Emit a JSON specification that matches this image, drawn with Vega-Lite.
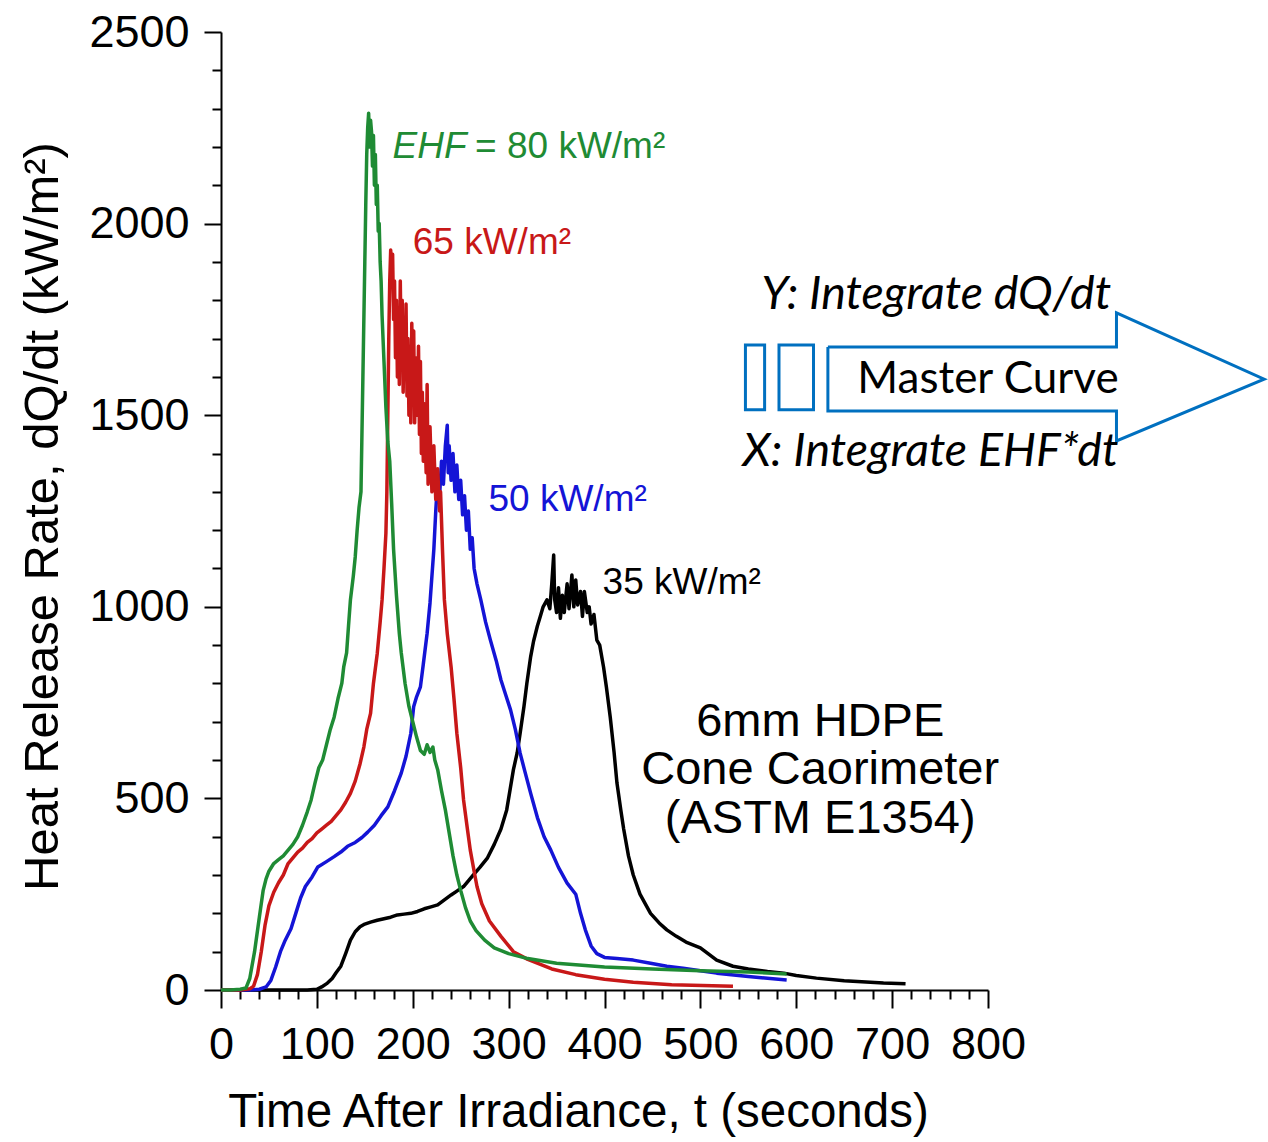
{
  "$schema": "https://vega.github.io/schema/vega-lite/v6.json",
  "autosize": {"type": "none"},
  "padding": {"left": 221, "top": 32, "right": 280, "bottom": 152},
  "width": 767,
  "height": 958,
  "background": "white",
  "config": {
    "view": {"stroke": null},
    "font": "Liberation Sans",
    "axis": {
      "domainColor": "black",
      "domainWidth": 2,
      "tickColor": "black",
      "tickWidth": 2,
      "grid": false,
      "labelFont": "Liberation Sans",
      "labelFontSize": 45,
      "labelColor": "black",
      "labelOverlap": false,
      "titleFont": "Liberation Sans",
      "titleFontSize": 47,
      "titleFontWeight": "normal",
      "titleColor": "black"
    }
  },
  "datasets": {
    "curves": [
      {"s":"35","t":0,"v":0},{"s":"35","t":50,"v":0},{"s":"35","t":90,"v":0},{"s":"35","t":100,"v":2},{"s":"35","t":105,"v":8},{"s":"35","t":111,"v":18},{"s":"35","t":116,"v":30},{"s":"35","t":120,"v":45},{"s":"35","t":125,"v":62},{"s":"35","t":130,"v":95},{"s":"35","t":135,"v":130},{"s":"35","t":140,"v":152},{"s":"35","t":145,"v":165},{"s":"35","t":150,"v":172},{"s":"35","t":156,"v":177},{"s":"35","t":163,"v":182},{"s":"35","t":170,"v":186},{"s":"35","t":177,"v":190},{"s":"35","t":184,"v":196},{"s":"35","t":191,"v":198},{"s":"35","t":198,"v":200},{"s":"35","t":205,"v":205},{"s":"35","t":212,"v":212},{"s":"35","t":219,"v":217},{"s":"35","t":226,"v":222},{"s":"35","t":233,"v":235},{"s":"35","t":240,"v":248},{"s":"35","t":246,"v":258},{"s":"35","t":253,"v":270},{"s":"35","t":258,"v":285},{"s":"35","t":263,"v":300},{"s":"35","t":270,"v":320},{"s":"35","t":278,"v":345},{"s":"35","t":285,"v":380},{"s":"35","t":292,"v":420},{"s":"35","t":298,"v":470},{"s":"35","t":302,"v":530},{"s":"35","t":305,"v":575},{"s":"35","t":309,"v":620},{"s":"35","t":312,"v":670},{"s":"35","t":316,"v":740},{"s":"35","t":319,"v":800},{"s":"35","t":323,"v":870},{"s":"35","t":326,"v":910},{"s":"35","t":330,"v":950},{"s":"35","t":333,"v":975},{"s":"35","t":336,"v":1000},{"s":"35","t":340,"v":1018},{"s":"35","t":343,"v":995},{"s":"35","t":345,"v":1060},{"s":"35","t":347,"v":1135},{"s":"35","t":348,"v":1020},{"s":"35","t":350,"v":985},{"s":"35","t":352,"v":1050},{"s":"35","t":354,"v":970},{"s":"35","t":356,"v":1030},{"s":"35","t":358,"v":985},{"s":"35","t":361,"v":1060},{"s":"35","t":363,"v":995},{"s":"35","t":366,"v":1083},{"s":"35","t":368,"v":1000},{"s":"35","t":370,"v":1070},{"s":"35","t":372,"v":1005},{"s":"35","t":375,"v":1040},{"s":"35","t":377,"v":975},{"s":"35","t":379,"v":1040},{"s":"35","t":382,"v":985},{"s":"35","t":384,"v":1000},{"s":"35","t":386,"v":955},{"s":"35","t":389,"v":980},{"s":"35","t":392,"v":913},{"s":"35","t":395,"v":900},{"s":"35","t":399,"v":843},{"s":"35","t":402,"v":790},{"s":"35","t":406,"v":712},{"s":"35","t":410,"v":620},{"s":"35","t":413,"v":540},{"s":"35","t":417,"v":470},{"s":"35","t":420,"v":420},{"s":"35","t":425,"v":350},{"s":"35","t":430,"v":300},{"s":"35","t":437,"v":250},{"s":"35","t":448,"v":200},{"s":"35","t":457,"v":175},{"s":"35","t":465,"v":157},{"s":"35","t":475,"v":140},{"s":"35","t":485,"v":125},{"s":"35","t":500,"v":110},{"s":"35","t":508,"v":95},{"s":"35","t":517,"v":78},{"s":"35","t":534,"v":62},{"s":"35","t":550,"v":55},{"s":"35","t":570,"v":48},{"s":"35","t":587,"v":44},{"s":"35","t":600,"v":38},{"s":"35","t":621,"v":31},{"s":"35","t":650,"v":24},{"s":"35","t":691,"v":18},{"s":"35","t":714,"v":16},
      {"s":"50","t":0,"v":0},{"s":"50","t":30,"v":0},{"s":"50","t":40,"v":2},{"s":"50","t":47,"v":8},{"s":"50","t":52,"v":25},{"s":"50","t":57,"v":60},{"s":"50","t":62,"v":100},{"s":"50","t":67,"v":130},{"s":"50","t":73,"v":160},{"s":"50","t":78,"v":200},{"s":"50","t":83,"v":240},{"s":"50","t":88,"v":270},{"s":"50","t":95,"v":295},{"s":"50","t":101,"v":321},{"s":"50","t":110,"v":335},{"s":"50","t":118,"v":348},{"s":"50","t":125,"v":360},{"s":"50","t":132,"v":375},{"s":"50","t":140,"v":385},{"s":"50","t":147,"v":398},{"s":"50","t":153,"v":412},{"s":"50","t":160,"v":430},{"s":"50","t":167,"v":455},{"s":"50","t":174,"v":478},{"s":"50","t":181,"v":520},{"s":"50","t":188,"v":566},{"s":"50","t":193,"v":610},{"s":"50","t":198,"v":670},{"s":"50","t":201,"v":740},{"s":"50","t":204,"v":765},{"s":"50","t":208,"v":791},{"s":"50","t":211,"v":850},{"s":"50","t":215,"v":931},{"s":"50","t":218,"v":1010},{"s":"50","t":222,"v":1150},{"s":"50","t":224,"v":1250},{"s":"50","t":226,"v":1330},{"s":"50","t":228,"v":1290},{"s":"50","t":230,"v":1380},{"s":"50","t":232,"v":1320},{"s":"50","t":234,"v":1420},{"s":"50","t":236,"v":1474},{"s":"50","t":237,"v":1350},{"s":"50","t":238,"v":1420},{"s":"50","t":240,"v":1330},{"s":"50","t":242,"v":1400},{"s":"50","t":244,"v":1300},{"s":"50","t":246,"v":1370},{"s":"50","t":248,"v":1280},{"s":"50","t":250,"v":1330},{"s":"50","t":252,"v":1240},{"s":"50","t":254,"v":1290},{"s":"50","t":256,"v":1200},{"s":"50","t":258,"v":1250},{"s":"50","t":260,"v":1150},{"s":"50","t":262,"v":1180},{"s":"50","t":264,"v":1100},{"s":"50","t":267,"v":1060},{"s":"50","t":271,"v":1018},{"s":"50","t":276,"v":960},{"s":"50","t":281,"v":913},{"s":"50","t":287,"v":860},{"s":"50","t":292,"v":809},{"s":"50","t":297,"v":770},{"s":"50","t":302,"v":731},{"s":"50","t":307,"v":680},{"s":"50","t":312,"v":618},{"s":"50","t":317,"v":570},{"s":"50","t":323,"v":513},{"s":"50","t":330,"v":450},{"s":"50","t":337,"v":400},{"s":"50","t":344,"v":365},{"s":"50","t":352,"v":320},{"s":"50","t":361,"v":279},{"s":"50","t":370,"v":250},{"s":"50","t":375,"v":200},{"s":"50","t":380,"v":157},{"s":"50","t":386,"v":115},{"s":"50","t":392,"v":95},{"s":"50","t":400,"v":85},{"s":"50","t":413,"v":82},{"s":"50","t":430,"v":78},{"s":"50","t":448,"v":70},{"s":"50","t":465,"v":62},{"s":"50","t":482,"v":57},{"s":"50","t":500,"v":50},{"s":"50","t":517,"v":44},{"s":"50","t":550,"v":35},{"s":"50","t":590,"v":26},
      {"s":"65","t":0,"v":0},{"s":"65","t":20,"v":0},{"s":"65","t":30,"v":3},{"s":"65","t":34,"v":10},{"s":"65","t":38,"v":40},{"s":"65","t":42,"v":100},{"s":"65","t":46,"v":170},{"s":"65","t":50,"v":220},{"s":"65","t":55,"v":255},{"s":"65","t":60,"v":280},{"s":"65","t":65,"v":300},{"s":"65","t":70,"v":330},{"s":"65","t":75,"v":345},{"s":"65","t":80,"v":360},{"s":"65","t":85,"v":370},{"s":"65","t":90,"v":385},{"s":"65","t":95,"v":395},{"s":"65","t":100,"v":410},{"s":"65","t":105,"v":420},{"s":"65","t":110,"v":430},{"s":"65","t":115,"v":440},{"s":"65","t":120,"v":455},{"s":"65","t":125,"v":470},{"s":"65","t":130,"v":490},{"s":"65","t":135,"v":513},{"s":"65","t":140,"v":545},{"s":"65","t":145,"v":590},{"s":"65","t":149,"v":634},{"s":"65","t":152,"v":680},{"s":"65","t":156,"v":722},{"s":"65","t":159,"v":800},{"s":"65","t":163,"v":879},{"s":"65","t":166,"v":960},{"s":"65","t":168,"v":1018},{"s":"65","t":170,"v":1100},{"s":"65","t":172,"v":1192},{"s":"65","t":173,"v":1300},{"s":"65","t":174,"v":1500},{"s":"65","t":175,"v":1700},{"s":"65","t":176,"v":1850},{"s":"65","t":177,"v":1931},{"s":"65","t":178,"v":1880},{"s":"65","t":179,"v":1920},{"s":"65","t":180,"v":1750},{"s":"65","t":181,"v":1850},{"s":"65","t":182,"v":1650},{"s":"65","t":183,"v":1800},{"s":"65","t":184,"v":1600},{"s":"65","t":185,"v":1780},{"s":"65","t":186,"v":1580},{"s":"65","t":187,"v":1850},{"s":"65","t":188,"v":1650},{"s":"65","t":189,"v":1800},{"s":"65","t":190,"v":1560},{"s":"65","t":191,"v":1720},{"s":"65","t":192,"v":1600},{"s":"65","t":193,"v":1790},{"s":"65","t":194,"v":1550},{"s":"65","t":195,"v":1700},{"s":"65","t":196,"v":1500},{"s":"65","t":197,"v":1680},{"s":"65","t":198,"v":1480},{"s":"65","t":199,"v":1740},{"s":"65","t":200,"v":1550},{"s":"65","t":201,"v":1720},{"s":"65","t":202,"v":1480},{"s":"65","t":203,"v":1650},{"s":"65","t":205,"v":1500},{"s":"65","t":206,"v":1680},{"s":"65","t":207,"v":1450},{"s":"65","t":208,"v":1640},{"s":"65","t":209,"v":1400},{"s":"65","t":210,"v":1560},{"s":"65","t":211,"v":1380},{"s":"65","t":212,"v":1530},{"s":"65","t":214,"v":1350},{"s":"65","t":215,"v":1580},{"s":"65","t":216,"v":1320},{"s":"65","t":218,"v":1470},{"s":"65","t":220,"v":1300},{"s":"65","t":222,"v":1420},{"s":"65","t":224,"v":1280},{"s":"65","t":226,"v":1360},{"s":"65","t":228,"v":1250},{"s":"65","t":229,"v":1300},{"s":"65","t":231,"v":1150},{"s":"65","t":233,"v":1018},{"s":"65","t":236,"v":930},{"s":"65","t":240,"v":843},{"s":"65","t":243,"v":760},{"s":"65","t":246,"v":670},{"s":"65","t":250,"v":580},{"s":"65","t":253,"v":496},{"s":"65","t":257,"v":420},{"s":"65","t":260,"v":365},{"s":"65","t":264,"v":310},{"s":"65","t":267,"v":270},{"s":"65","t":272,"v":225},{"s":"65","t":280,"v":180},{"s":"65","t":292,"v":140},{"s":"65","t":305,"v":100},{"s":"65","t":320,"v":80},{"s":"65","t":345,"v":55},{"s":"65","t":370,"v":40},{"s":"65","t":400,"v":28},{"s":"65","t":430,"v":20},{"s":"65","t":470,"v":14},{"s":"65","t":534,"v":10},
      {"s":"80","t":0,"v":0},{"s":"80","t":10,"v":0},{"s":"80","t":20,"v":2},{"s":"80","t":26,"v":5},{"s":"80","t":30,"v":30},{"s":"80","t":35,"v":100},{"s":"80","t":40,"v":190},{"s":"80","t":44,"v":260},{"s":"80","t":47,"v":290},{"s":"80","t":50,"v":310},{"s":"80","t":55,"v":330},{"s":"80","t":60,"v":340},{"s":"80","t":65,"v":350},{"s":"80","t":70,"v":365},{"s":"80","t":75,"v":380},{"s":"80","t":80,"v":400},{"s":"80","t":85,"v":430},{"s":"80","t":90,"v":465},{"s":"80","t":94,"v":496},{"s":"80","t":98,"v":540},{"s":"80","t":102,"v":580},{"s":"80","t":106,"v":600},{"s":"80","t":110,"v":640},{"s":"80","t":114,"v":680},{"s":"80","t":118,"v":712},{"s":"80","t":122,"v":760},{"s":"80","t":126,"v":800},{"s":"80","t":128,"v":843},{"s":"80","t":131,"v":880},{"s":"80","t":133,"v":950},{"s":"80","t":135,"v":1018},{"s":"80","t":138,"v":1080},{"s":"80","t":140,"v":1130},{"s":"80","t":142,"v":1200},{"s":"80","t":144,"v":1260},{"s":"80","t":146,"v":1300},{"s":"80","t":148,"v":1600},{"s":"80","t":150,"v":1900},{"s":"80","t":151,"v":2050},{"s":"80","t":152,"v":2180},{"s":"80","t":153,"v":2250},{"s":"80","t":154,"v":2288},{"s":"80","t":155,"v":2200},{"s":"80","t":156,"v":2270},{"s":"80","t":157,"v":2240},{"s":"80","t":158,"v":2150},{"s":"80","t":159,"v":2230},{"s":"80","t":160,"v":2100},{"s":"80","t":161,"v":2180},{"s":"80","t":162,"v":2050},{"s":"80","t":163,"v":2100},{"s":"80","t":164,"v":1980},{"s":"80","t":165,"v":2000},{"s":"80","t":166,"v":1900},{"s":"80","t":167,"v":1850},{"s":"80","t":168,"v":1760},{"s":"80","t":170,"v":1640},{"s":"80","t":172,"v":1520},{"s":"80","t":174,"v":1430},{"s":"80","t":176,"v":1380},{"s":"80","t":178,"v":1270},{"s":"80","t":180,"v":1150},{"s":"80","t":183,"v":1030},{"s":"80","t":186,"v":930},{"s":"80","t":188,"v":880},{"s":"80","t":192,"v":800},{"s":"80","t":196,"v":740},{"s":"80","t":200,"v":700},{"s":"80","t":204,"v":660},{"s":"80","t":208,"v":625},{"s":"80","t":212,"v":615},{"s":"80","t":215,"v":640},{"s":"80","t":218,"v":620},{"s":"80","t":221,"v":634},{"s":"80","t":223,"v":600},{"s":"80","t":226,"v":575},{"s":"80","t":230,"v":520},{"s":"80","t":234,"v":470},{"s":"80","t":238,"v":410},{"s":"80","t":242,"v":350},{"s":"80","t":246,"v":300},{"s":"80","t":250,"v":260},{"s":"80","t":255,"v":215},{"s":"80","t":260,"v":180},{"s":"80","t":266,"v":155},{"s":"80","t":275,"v":130},{"s":"80","t":285,"v":110},{"s":"80","t":300,"v":95},{"s":"80","t":320,"v":82},{"s":"80","t":350,"v":70},{"s":"80","t":400,"v":60},{"s":"80","t":450,"v":55},{"s":"80","t":500,"v":50},{"s":"80","t":550,"v":47},{"s":"80","t":590,"v":42}
    ],
    "labels": [
      {"s":"80","t":179,"v":2200,"text":"EHF"},
      {"s":"80","t":265,"v":2200,"text":"= 80 kW/m²"},
      {"s":"65","t":200,"v":1949,"text":"65 kW/m²"},
      {"s":"50","t":279,"v":1279,"text":"50 kW/m²"},
      {"s":"35","t":398,"v":1062,"text":"35 kW/m²"}
    ],
    "caption": [
      {"t":625,"v":699,"text":"6mm HDPE"},
      {"t":625,"v":574,"text":"Cone Caorimeter"},
      {"t":625,"v":446,"text":"(ASTM E1354)"}
    ],
    "steps": [
      {"t":746,"v":1814,"text":"Y: Integrate dQ/dt","kind":"note"},
      {"t":740,"v":1404,"text":"X: Integrate EHF*dt","kind":"note"},
      {"t":800,"v":1592,"text":"Master Curve","kind":"head"}
    ],
    "arrow": [
      {"k":0,"t":633,"v":1678},
      {"k":1,"t":934,"v":1678},
      {"k":2,"t":934,"v":1767},
      {"k":3,"t":1088,"v":1594},
      {"k":4,"t":934,"v":1433},
      {"k":5,"t":934,"v":1511},
      {"k":6,"t":633,"v":1511},
      {"k":7,"t":633,"v":1678}
    ],
    "boxes": [
      {"t":547,"t2":567,"v":1514,"v2":1683},
      {"t":582,"t2":618,"v":1514,"v2":1683}
    ]
  },
  "encoding": {
    "x": {
      "field": "t", "type": "quantitative",
      "scale": {"domain": [0, 800], "nice": false, "zero": false},
      "axis": {
        "values": [0,20,40,60,80,100,120,140,160,180,200,220,240,260,280,300,320,340,360,380,400,420,440,460,480,500,520,540,560,580,600,620,640,660,680,700,720,740,760,780,800],
        "labelExpr": "datum.value % 100 === 0 ? datum.label : ''",
        "labelOverlap": false,
        "labelFlush": false,
        "labelBound": false,
        "tickSize": {"condition": {"test": "datum.value % 100 === 0", "value": 18}, "value": 9},
        "labelPadding": 14,
        "title": "Time After Irradiance, t (seconds)",
        "titleFontSize": 47.5,
        "titleX": 357,
        "titleY": 122,
        "titleBaseline": "middle",
        "titleAlign": "center"
      }
    },
    "y": {
      "field": "v", "type": "quantitative",
      "scale": {"domain": [0, 2500], "nice": false},
      "axis": {
        "values": [0,100,200,300,400,500,600,700,800,900,1000,1100,1200,1300,1400,1500,1600,1700,1800,1900,2000,2100,2200,2300,2400,2500],
        "labelExpr": "datum.value % 500 === 0 ? datum.label : ''",
        "labelOverlap": false,
        "labelFlush": false,
        "labelBound": false,
        "format": "d",
        "tickSize": {"condition": {"test": "datum.value % 500 === 0", "value": 17}, "value": 9},
        "labelPadding": 15,
        "labelBaseline": "middle",
        "title": "Heat Release Rate, dQ/dt (kW/m²)",
        "titleFontSize": 49,
        "titleX": -179,
        "titleY": 484,
        "titleAngle": -90,
        "titleBaseline": "middle",
        "titleAlign": "center"
      }
    }
  },
  "layer": [
    {
      "data": {"name": "curves"},
      "mark": {"type": "line", "strokeWidth": 3.5, "strokeJoin": "round", "clip": false},
      "encoding": {
        "color": {
          "field": "s", "type": "nominal",
          "scale": {"domain": ["35","50","65","80"], "range": ["#000000","#1414d6","#c81818","#1f8b34"]},
          "legend": null
        },
        "order": {"field": "t", "type": "quantitative"}
      }
    },
    {
      "data": {"name": "labels"},
      "transform": [{"filter": "datum.text === 'EHF'"}],
      "mark": {"type": "text", "align": "left", "baseline": "middle", "fontSize": 37, "fontStyle": "italic", "font": "Liberation Sans"},
      "encoding": {
        "text": {"field": "text"},
        "color": {"field": "s", "type": "nominal", "legend": null}
      }
    },
    {
      "data": {"name": "labels"},
      "transform": [{"filter": "datum.text !== 'EHF'"}],
      "mark": {"type": "text", "align": "left", "baseline": "middle", "fontSize": 37, "font": "Liberation Sans"},
      "encoding": {
        "text": {"field": "text"},
        "color": {"field": "s", "type": "nominal", "legend": null}
      }
    },
    {
      "data": {"name": "caption"},
      "mark": {"type": "text", "align": "center", "baseline": "middle", "fontSize": 47, "font": "Liberation Sans", "color": "black"},
      "encoding": {
        "text": {"field": "text"}
      }
    },
    {
      "data": {"name": "boxes"},
      "mark": {"type": "rect", "fill": "white", "stroke": "#0070c0", "strokeWidth": 3, "clip": false},
      "encoding": {
        "x2": {"field": "t2"},
        "y2": {"field": "v2"}
      }
    },
    {
      "data": {"name": "arrow"},
      "mark": {"type": "line", "color": "#0070c0", "strokeWidth": 3, "strokeJoin": "miter", "clip": false},
      "encoding": {
        "order": {"field": "k", "type": "quantitative"}
      }
    },
    {
      "data": {"name": "steps"},
      "transform": [{"filter": "datum.kind === 'note'"}],
      "mark": {"type": "text", "align": "center", "baseline": "middle", "fontSize": 46.5, "fontStyle": "italic", "font": "Lato", "color": "black"},
      "encoding": {
        "text": {"field": "text"}
      }
    },
    {
      "data": {"name": "steps"},
      "transform": [{"filter": "datum.kind === 'head'"}],
      "mark": {"type": "text", "align": "center", "baseline": "middle", "fontSize": 44, "font": "Lato", "color": "black"},
      "encoding": {
        "text": {"field": "text"}
      }
    }
  ]
}
